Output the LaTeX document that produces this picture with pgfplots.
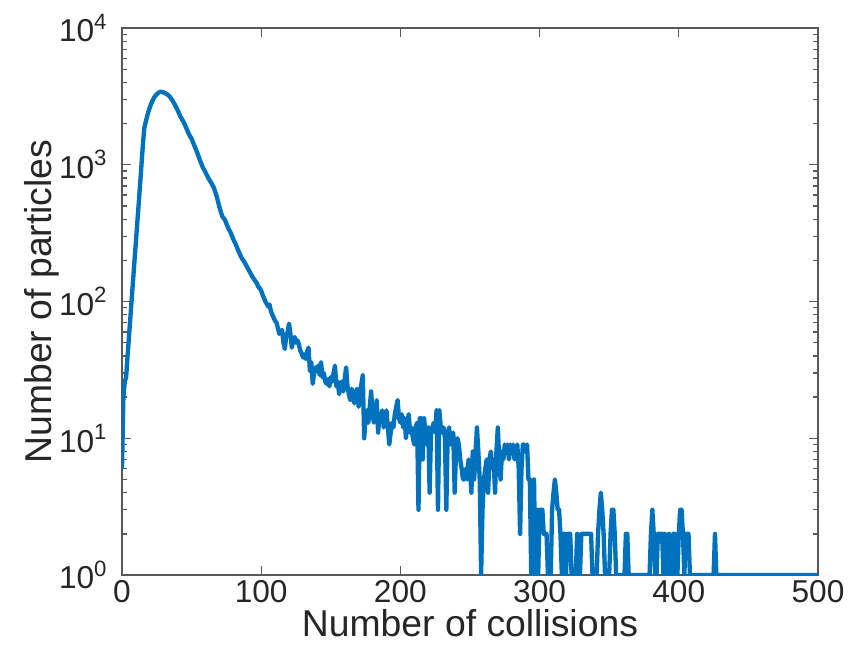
\documentclass[border=0pt]{standalone}
\usepackage{pgfplots}
\pgfplotsset{compat=1.18}
\usepackage{fontspec}
\setmainfont{Liberation Sans}
\definecolor{mblue}{rgb}{0,0.447,0.741}
\definecolor{mtext}{rgb}{0.15,0.15,0.15}
\definecolor{maxis}{rgb}{0.35,0.35,0.35}
\begin{document}
\begin{tikzpicture}
\useasboundingbox (-36.6pt,-21.3pt) rectangle (220.8pt,172.5pt);
\begin{axis}[
  at={(0,0)}, anchor=south west,
  scale only axis, width=208.8pt, height=164.1pt,
  xmin=0, xmax=500, ymode=log, ymin=1, ymax=10000,
  xtick={0,100,200,300,400,500},
  xticklabels={0,100,200,300,400,500},
  ytick={1,10,100,1000,10000},
  yticklabels={10\textsuperscript{0},10\textsuperscript{1},10\textsuperscript{2},10\textsuperscript{3},10\textsuperscript{4}},
  tick align=inside,
  major tick length=2.8pt, minor tick length=1.5pt,
  axis line style={maxis, line width=0.4pt},
  every tick/.style={maxis, line width=0.4pt},
  tick label style={font=\fontsize{9.5}{11}\selectfont, text=mtext},
  xticklabel style={yshift=2pt},
  yticklabel style={xshift=-0.6pt},
  xlabel={Number of collisions},
  ylabel={Number of particles},
  label style={font=\fontsize{11.2}{13}\selectfont, text=mtext},
  xlabel style={at={(axis description cs:0.5,-0.112)}, anchor=base},
  ylabel style={at={(axis description cs:-0.1006,0.5)}, anchor=base},
  clip=true,
]
\addplot[mblue, line width=1.3pt, line join=round] table {
x y
0 6
1 20
2 26
3 28
4 40
5 55
6 76
7 105
8 145
9 200
10 275
11 380
12 520
13 720
14 1000
15 1400
16 1850
17 2050
18 2250
19 2450
20 2630
21 2800
22 2950
23 3100
24 3200
25 3280
26 3350
27 3400
28 3420
29 3410
30 3380
32 3300
34 3180
36 2980
38 2750
40 2500
42 2250
44 2080
46 1880
48 1680
50 1550
52 1380
54 1230
56 1080
58 960
60 880
62 800
64 740
66 680
68 590
70 490
72 420
74 395
76 350
78 320
80 285
82 258
84 230
86 208
88 194
90 178
92 163
94 150
95 145
96 140
97 135
98 128
99 125
100 120
101 112
102 106
103 100
104 96
105 92
106 95
107 85
108 80
109 76
110 72
111 70
112 64
113 58
114 60
115 62
116 50
117 45
118 56
119 60
120 69
121 58
122 46
123 52
124 55
125 50
126 52
127 49
128 44
129 42
130 39
131 41
132 38
133 43
134 46
135 31
136 36
137 25
138 30
139 33
140 31
141 34
142 29
143 36
144 28
145 30
146 26
147 25
148 27
149 24
150 28
151 26
152 30
153 34
154 24
155 26
156 21
157 25
158 26
159 22
160 27
161 33
162 24
163 21
164 19
165 23
166 20
167 18
168 22
169 23
170 17
171 20
172 25
173 29
174 10
175 14
176 16
177 13
178 17
179 22
180 15
181 13
182 16
183 19
184 11
185 15
186 14
187 16
188 12
189 13
190 16
191 12
192 9
193 11
194 13
195 12
196 15
197 17
198 19
199 14
200 13
201 15
202 12
203 14
204 10
205 13
206 15
207 11
208 12
209 10
210 9
211 12
212 13
213 3
214 14
215 14
216 7
217 14
218 11
219 9
220 12
221 4
222 11
223 12
224 13
225 11
226 16
227 3
228 16
229 12
230 11
231 12
232 10
233 3
234 11
235 12
236 9
237 10
238 11
239 4
240 8
241 10
242 9
243 7
244 6
245 5
246 5
247 6
248 5
249 7
250 6
251 4
252 8
253 5
254 8
255 12
256 8
257 5
258 1
259 3
260 5
261 6
262 7
263 4
264 7
265 8
266 6
267 7
268 4
269 8
270 12
271 7
272 5
273 8
274 7
275 9
276 8
277 9
278 7
279 9
280 8
281 9
282 7
283 8
284 9
285 6
286 2
287 6
288 9
289 9
290 8
291 9
292 5
293 5
294 1
295 3
296 5
297 1
298 3
299 1
300 3
301 3
302 3
303 2
304 2
305 2
306 1
307 1
308 1
309 3
310 4
311 5
312 4
313 3
314 3
315 2
316 1
317 2
318 2
319 1
320 2
321 2
322 2
323 1
324 1
325 1
326 1
327 2
328 1
329 1
330 2
331 2
332 2
333 2
334 2
335 2
336 2
337 2
338 1
339 1
340 1
341 1
342 2
343 3
344 4
345 3
346 2
347 1
348 1
349 1
350 1
351 2
352 3
353 3
354 2
355 1
356 1
361 1
362 2
363 2
364 1
379 1
380 2
381 3
382 2
383 1
384 1
385 2
386 2
387 2
388 2
389 1
390 2
391 1
392 1
393 2
394 1
395 1
396 2
397 2
398 1
399 1
400 2
401 3
402 3
403 2
404 1
405 2
406 2
407 2
408 1
425 1
426 2
427 1
500 1
};
\end{axis}
\end{tikzpicture}
\end{document}
